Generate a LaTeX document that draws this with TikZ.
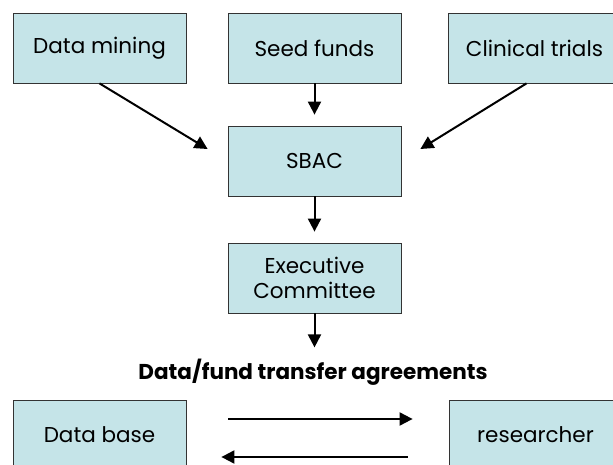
\documentclass[tikz,border=0pt]{standalone}
\usepackage{fontspec}
\setmainfont{Poppins}
\definecolor{paleteal}{HTML}{C5E4E8}
\definecolor{edgegrey}{HTML}{333333}
\usetikzlibrary{arrows.meta,positioning}

\begin{document}
\begin{tikzpicture}[x=1pt, y=-1pt,
    blockbox/.style={rectangle, draw=edgegrey, line width=0.8pt, fill=paleteal,
      minimum width=173pt, minimum height=70pt, align=center,
      font=\fontsize{21.5}{25}\selectfont, inner sep=0pt},
    flow/.style={line width=2pt, -{Triangle[length=13pt, width=13pt]}}]
  \useasboundingbox (0,0) rectangle (613,465);
  \clip (0,0) rectangle (613,465);

  % sources on top row
  \node[blockbox] (mining) at (99.5,48) {Data mining};
  \node[blockbox] (seed) at (314.5,48) {Seed funds};
  \node[blockbox] (trials) at (534.5,48) {Clinical trials};

  % committee chain
  \node[blockbox] (sbac) at (314.5,161) {SBAC};
  \node[blockbox] (exec) at (314.5,278) {Executive\\Committee};
  \node[font=\bfseries\fontsize{21.5}{25}\selectfont, anchor=base] (agree)
    at (313,379) {Data/fund transfer agreements};

  % bottom row
  \node[blockbox] (database) at (99.5,435) {Data base};
  \node[blockbox] (researcher) at (535.5,435) {researcher};

  \draw[flow] (mining.south) -- ([shift={(-20,-12)}]sbac.west);
  \draw[flow, shorten >=11pt] (seed.south) -- (sbac.north);
  \draw[flow] ([xshift=-8pt]trials.south) -- ([shift={(19,-12)}]sbac.east);
  \draw[flow, shorten >=11pt] (sbac.south) -- (exec.north);
  \draw[flow] (exec.south) -- ++(0,34);

  \draw[flow] ([shift={(42,-16)}]database.east) -- ([shift={(-36,-16)}]researcher.west);
  \draw[flow] ([shift={(-41,22)}]researcher.west) -- ([shift={(35,22)}]database.east);
\end{tikzpicture}
\end{document}
